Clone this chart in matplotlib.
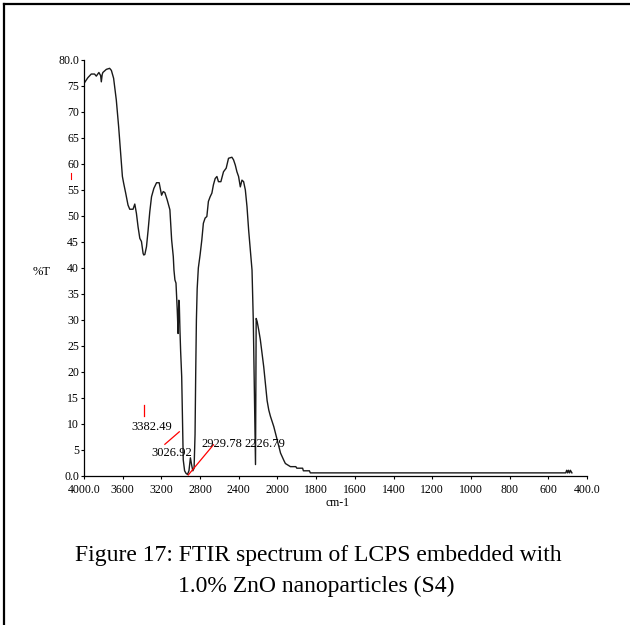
import matplotlib
matplotlib.use("Agg")
import matplotlib.pyplot as plt
from matplotlib.lines import Line2D
import numpy as np

plt.rcParams['font.family'] = ['Liberation Serif', 'DejaVu Serif']

# FTIR spectrum, wavenumber (cm-1) vs transmittance (%T)
wavenumber = [4000, 3960, 3925, 3891, 3873, 3846, 3828, 3821, 3812, 3805, 3769, 3735,
              3717, 3694, 3666, 3642, 3624, 3603, 3590, 3569, 3545, 3527, 3493, 3475,
              3458, 3441, 3423, 3406, 3389, 3382, 3371, 3354, 3337, 3320, 3302, 3278,
              3250, 3223, 3198, 3181, 3164, 3140, 3112, 3094, 3077, 3070, 3060, 3049,
              3036, 3027, 3020, 3015, 3008, 3001, 2990, 2980, 2974, 2960, 2945, 2930,
              2915, 2900, 2888, 2875, 2862, 2852, 2845, 2838, 2830, 2818, 2800, 2782,
              2766, 2748, 2730, 2714, 2696, 2678, 2662, 2644, 2626, 2610, 2585, 2558,
              2530, 2506, 2471, 2454, 2436, 2419, 2402, 2384, 2367, 2350, 2332, 2315,
              2298, 2281, 2263, 2250, 2240, 2232, 2227, 2223, 2220, 2210, 2194, 2177,
              2159, 2142, 2125, 2107, 2090, 2073, 2055, 2038, 2020, 2003, 1984, 1967,
              1959, 1933, 1905, 1900, 1870, 1866, 1835, 1830, 1500, 1000, 700, 510,
              505, 500, 496, 490, 486, 478]
transmittance = [75.5, 76.6, 77.3, 77.3, 76.9, 77.6, 77.0, 75.8, 77.2, 77.6, 78.2, 78.4,
                 78.0, 76.5, 72.3, 67.2, 62.7, 57.6, 56.3, 54.4, 52.1, 51.3, 51.3, 52.3,
                 50.5, 47.9, 45.7, 45.1, 42.8, 42.5, 42.6, 44.1, 47.3, 50.8, 53.7, 55.3,
                 56.4, 56.4, 54.0, 54.7, 54.5, 53.1, 51.2, 45.4, 42.2, 39.6, 37.7, 37.1,
                 31.9, 27.4, 33.8, 33.2, 28.0, 24.0, 19.1, 9.5, 3.1, 1.0, 0.5, 0.3,
                 1.0, 3.5, 2.2, 1.0, 1.5, 8.0, 20.0, 30.0, 36.0, 40.0, 42.5, 45.4,
                 48.6, 49.6, 49.9, 52.8, 53.7, 54.4, 56.0, 57.2, 57.6, 56.6, 56.6, 58.5,
                 59.2, 61.1, 61.3, 60.8, 59.8, 58.5, 57.6, 55.6, 56.9, 56.6, 55.0, 51.8,
                 47.3, 43.5, 39.6, 30.0, 18.0, 8.0, 2.2, 18.0, 30.3, 29.7, 28.1, 26.2,
                 23.6, 21.0, 17.8, 14.5, 12.7, 11.5, 10.5, 9.5, 8.2, 6.9, 4.4, 3.0,
                 2.4, 1.8, 1.8, 1.5, 1.5, 1.0, 1.0, 0.6, 0.6, 0.6, 0.6, 0.6,
                 1.1, 0.6, 1.1, 0.6, 1.1, 0.6]

# picked peaks: label text, red leader line (x0, y0, x1, y1), text position
peak_labels = ['3382.49', '3026.92', '2929.78', '2226.79']
peak_lines = [(3382.49, 11.5, 3382.49, 13.7),
              (3164, 6.1, 3015, 8.5),
              (2922, 0.2, 2662, 6.0),
              None]
peak_text_x = [3302, 3095, 2577, 2135]
peak_text_y = [9.5, 4.4, 6.1, 6.1]

x_ticks = [4000, 3600, 3200, 2800, 2400, 2000, 1800, 1600, 1400, 1200, 1000, 800, 600, 400]
x_ticklabels = ['4000.0', '3600', '3200', '2800', '2400', '2000', '1800', '1600',
                '1400', '1200', '1000', '800', '600', '400.0']
y_ticks = list(range(0, 85, 5))
y_ticklabels = ['0.0'] + [str(v) for v in y_ticks[1:-1]] + ['80.0']


# spectrometer axis: below 2000 cm-1 the scale is doubled
def fwd(w):
    w = np.asarray(w, dtype=float)
    return np.where(w >= 2000, w, 2 * w - 2000)


def inv(u):
    u = np.asarray(u, dtype=float)
    return np.where(u >= 2000, u, (u + 2000) / 2)


fig = plt.figure(figsize=(6.3, 6.25), dpi=100)
ax = fig.add_axes([84 / 630, 1 - 476 / 625, 503 / 630, 416 / 625])
ax.set_xscale('function', functions=(fwd, inv))

ax.plot(wavenumber, transmittance, color='#1a1a1a', lw=1.0)

for lab, ln, tx, ty in zip(peak_labels, peak_lines, peak_text_x, peak_text_y):
    if ln is not None:
        ax.plot([ln[0], ln[2]], [ln[1], ln[3]], color='red', lw=0.9, clip_on=False)
    ax.text(tx, ty, lab, ha='center', va='center', fontsize=9)

# stray red tick left of the axis
ax.plot([4130, 4130], [57.2, 58.2], color='red', lw=0.8, clip_on=False)

ax.set_xlim(4000, 400)
ax.set_ylim(0, 80)
ax.set_xticks(x_ticks)
ax.set_xticklabels(x_ticklabels)
ax.set_yticks(y_ticks)
ax.set_yticklabels(y_ticklabels)
ax.xaxis.set_minor_locator(matplotlib.ticker.NullLocator())
ax.tick_params(axis='both', labelsize=8.5, length=2.5, width=0.8, pad=1)
ax.tick_params(axis='x', pad=3)
for side in ['top', 'right']:
    ax.spines[side].set_visible(False)
for side in ['left', 'bottom']:
    ax.spines[side].set_linewidth(0.9)

fig.text(42 / 630, 1 - 272 / 625, '%T', ha='center', va='center', fontsize=9)
fig.text(338 / 630, 1 - 503 / 625, 'cm-1', ha='center', va='center', fontsize=8.5)

fig.text(318 / 630, 1 - 556 / 625, 'Figure 17: FTIR spectrum of LCPS embedded with',
         ha='center', va='center', fontsize=17)
fig.text(316 / 630, 1 - 586 / 625, '1.0% ZnO nanoparticles (S4)',
         ha='center', va='center', fontsize=17)

# frame on the left and top edges
fig.add_artist(Line2D([4 / 630, 4 / 630], [0, 1 - 4 / 625], color='black', lw=1.6))
fig.add_artist(Line2D([4 / 630, 1], [1 - 4 / 625, 1 - 4 / 625], color='black', lw=1.6))

plt.savefig('out.png', dpi=100)
